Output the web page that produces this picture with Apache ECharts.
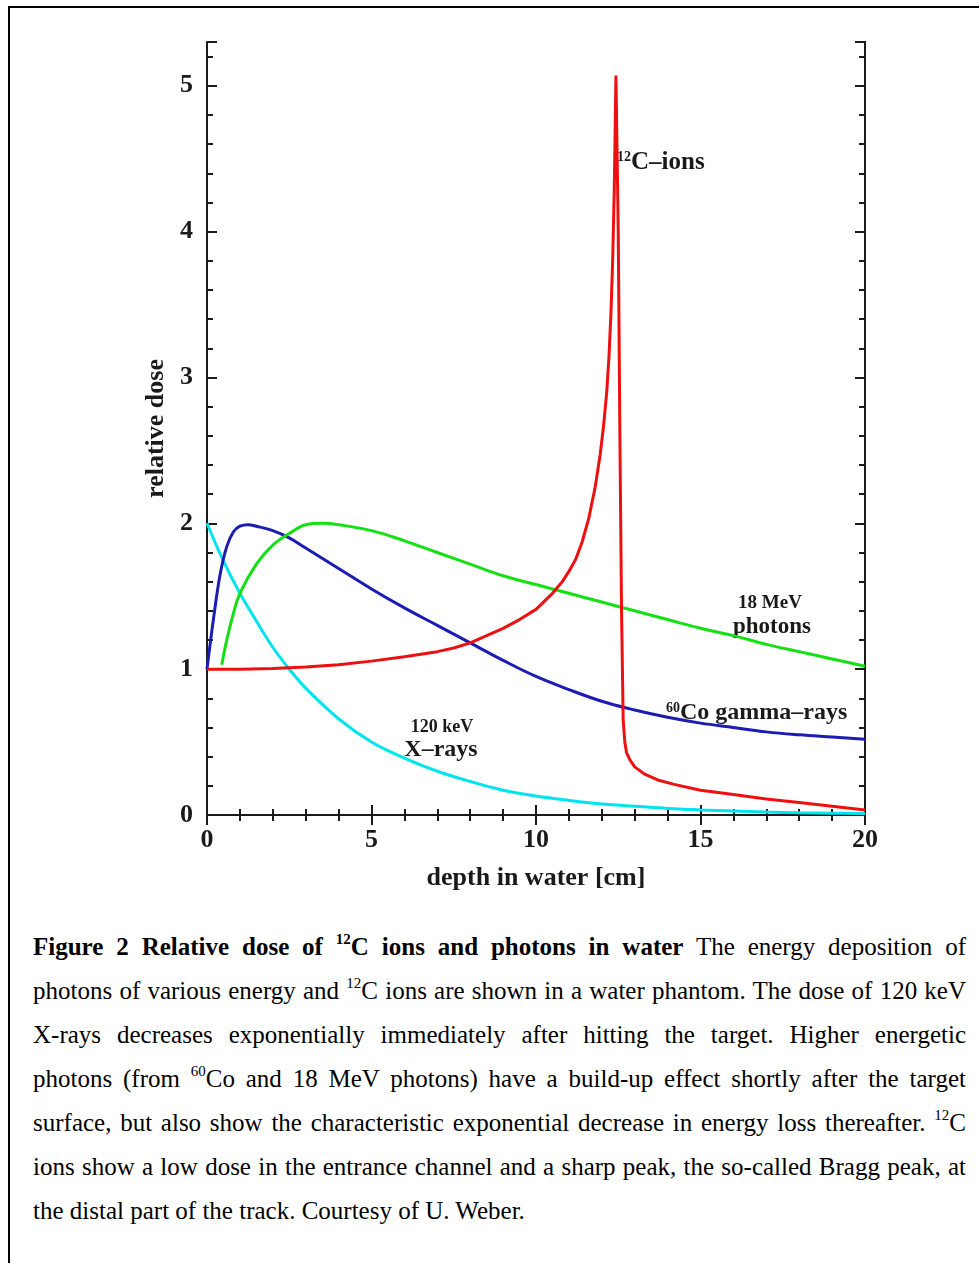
<!DOCTYPE html>
<html>
<head>
<meta charset="utf-8">
<script src="https://cdn.jsdelivr.net/npm/echarts@6/dist/echarts.min.js"></script>
<style>
  html, body { margin: 0; padding: 0; background: #fff; }
  #page { position: relative; width: 979px; height: 1263px; overflow: hidden; }
  #frame { position: absolute; left: 8px; top: 6px; width: 990px; height: 1300px;
           border-top: 2px solid #000; border-left: 2px solid #000; }
  #chart { position: absolute; left: 0; top: 0; width: 979px; height: 900px; }
  #caption { position: absolute; left: 33px; top: 925px; width: 933px;
             font-family: "Liberation Serif", "Times New Roman", serif; font-size: 25px; color: #000; }
  #caption .ln { height: 44px; line-height: 44px; text-align: justify; text-align-last: justify; }
  #caption .ln.last { text-align: left; text-align-last: left; }
  #caption sup { font-size: 15px; line-height: 0; vertical-align: baseline; position: relative; top: -0.75em; }
</style>
</head>
<body>
<div id="page">
  <div id="frame"></div>
  <div id="chart"></div>
  <div id="caption">
    <div class="ln"><b>Figure 2 Relative dose of <sup>12</sup>C ions and photons in water</b> The energy deposition of</div>
    <div class="ln">photons of various energy and <sup>12</sup>C ions are shown in a water phantom. The dose of 120 keV</div>
    <div class="ln">X-rays decreases exponentially immediately after hitting the target. Higher energetic</div>
    <div class="ln">photons (from <sup>60</sup>Co and 18 MeV photons) have a build-up effect shortly after the target</div>
    <div class="ln">surface, but also show the characteristic exponential decrease in energy loss thereafter. <sup>12</sup>C</div>
    <div class="ln">ions show a low dose in the entrance channel and a sharp peak, the so-called Bragg peak, at</div>
    <div class="ln last">the distal part of the track. Courtesy of U. Weber.</div>
  </div>
</div>
<script>
  // 120 keV X-rays
  var xrayDepth = [0, 0.5, 1, 1.5, 2, 2.5, 3, 4, 5, 6, 7, 8, 9, 10, 11, 12, 13, 14, 15, 16, 17, 18, 19, 20]
  var xrayDose = [2.0, 1.74, 1.52, 1.33, 1.15, 1.0, 0.87, 0.66, 0.50, 0.39, 0.30, 0.23, 0.17, 0.13, 0.10, 0.075, 0.06, 0.045, 0.035, 0.027, 0.02, 0.015, 0.012, 0.01]

  // 60Co gamma-rays
  var cobaltDepth = [0, 0.2, 0.4, 0.6, 0.8, 1.0, 1.25, 1.5, 2, 2.5, 3, 4, 5, 6, 7, 8, 9, 10, 11, 12, 13, 14, 15, 16, 17, 18, 19, 20]
  var cobaltDose = [1.0, 1.35, 1.65, 1.84, 1.94, 1.98, 1.99, 1.98, 1.95, 1.90, 1.83, 1.69, 1.55, 1.42, 1.30, 1.18, 1.06, 0.95, 0.86, 0.78, 0.72, 0.67, 0.63, 0.60, 0.57, 0.55, 0.535, 0.52]

  // 18 MeV photons
  var photonDepth = [0.45, 0.6, 0.8, 1.0, 1.5, 2.0, 2.5, 3.0, 3.5, 4, 5, 6, 7, 8, 9, 10, 11, 12, 13, 14, 15, 16, 17, 18, 19, 20]
  var photonDose = [1.03, 1.2, 1.38, 1.52, 1.72, 1.85, 1.93, 1.99, 2.0, 1.99, 1.95, 1.88, 1.80, 1.72, 1.64, 1.58, 1.52, 1.46, 1.40, 1.34, 1.28, 1.23, 1.17, 1.12, 1.07, 1.02]

  // 12C ions
  var carbonDepth = [0, 1, 2, 3, 4, 5, 6, 7, 7.5, 8, 8.5, 9, 9.5, 10, 10.5, 10.8, 11, 11.2, 11.4, 11.6, 11.8, 11.95, 12.05, 12.15,
    12.22, 12.28, 12.33, 12.38, 12.43, 12.5, 12.55, 12.6, 12.65, 12.7, 12.75, 12.85, 13.0, 13.3, 13.7, 14.2, 15, 16, 17, 18, 19, 20]
  var carbonDose = [1.0, 1.0, 1.005, 1.015, 1.03, 1.055, 1.085, 1.12, 1.145, 1.18, 1.23, 1.28, 1.34, 1.41, 1.52, 1.6, 1.67, 1.75, 1.87,
    2.03, 2.25, 2.47, 2.66, 2.9, 3.15, 3.45, 3.8, 4.3, 5.07, 4.0, 2.6, 1.4, 0.65, 0.5, 0.43, 0.38, 0.33, 0.28, 0.24, 0.21, 0.17,
    0.14, 0.11, 0.085, 0.06, 0.035]

  var xTicks = { min: 0, max: 20, interval: 5 }
  var yTicks = { min: 0, max: 5.3, major: 1, minor: 0.2 }

  function zip(xs, ys) {
    return xs.map(function (x, i) { return [x, ys[i]] })
  }

  var serif = '"Liberation Serif", "Times New Roman", serif'
  var ink = '#1a1a1a'
  var axisLine = { lineStyle: { color: ink, width: 2 } }

  function xAxis(pos, withLabels) {
    return {
      type: 'value', position: pos, min: xTicks.min, max: xTicks.max, interval: xTicks.interval,
      axisLine: axisLine,
      axisTick: { inside: true, length: 10, lineStyle: { color: ink, width: 2 } },
      minorTick: { show: true, splitNumber: 5, length: 6, lineStyle: { color: ink, width: 2 } },
      splitLine: { show: false },
      axisLabel: withLabels ? { show: true, margin: 12, color: ink, fontFamily: serif, fontWeight: 'bold', fontSize: 26 } : { show: false },
      name: withLabels ? 'depth in water [cm]' : '',
      nameLocation: 'middle', nameGap: 50,
      nameTextStyle: { color: ink, fontFamily: serif, fontWeight: 'bold', fontSize: 26 }
    }
  }

  function yAxis(pos, step, tickLen, withLabels) {
    return {
      type: 'value', position: pos, min: yTicks.min, max: yTicks.max, interval: step,
      axisLine: withLabels || pos === 'right' ? axisLine : { show: false },
      axisTick: { inside: true, length: tickLen, lineStyle: { color: ink, width: 2 } },
      splitLine: { show: false },
      axisLabel: withLabels ? {
        show: true, margin: 14, color: ink, fontFamily: serif, fontWeight: 'bold', fontSize: 26,
        formatter: function (v) { return Math.abs(v - Math.round(v)) < 1e-6 ? String(Math.round(v)) : '' }
      } : { show: false },
      name: withLabels ? 'relative dose' : '',
      nameLocation: 'middle', nameGap: 38,
      nameTextStyle: { color: ink, fontFamily: serif, fontWeight: 'bold', fontSize: 26 }
    }
  }

  function curve(name, data, color) {
    return {
      name: name, type: 'line', data: data, xAxisIndex: 0, yAxisIndex: 0,
      symbol: 'none', smooth: name === 'carbon' ? false : 0.4,
      lineStyle: { color: color, width: 3 }
    }
  }

  function label(x, y, text, size, align) {
    return {
      type: 'text', x: x, y: y,
      style: { text: text, fill: ink, font: 'bold ' + size + 'px ' + serif, textAlign: align || 'center', textVerticalAlign: 'middle' }
    }
  }

  function supLabel(x, y, sup, text, size) {
    return {
      type: 'text', x: x, y: y,
      style: {
        text: '{s|' + sup + '}{m|' + text + '}', fill: ink, textAlign: 'left', textVerticalAlign: 'middle',
        rich: {
          s: { fontFamily: serif, fontWeight: 'bold', fontSize: 14, verticalAlign: 'top', fill: ink, color: ink },
          m: { fontFamily: serif, fontWeight: 'bold', fontSize: size, fill: ink, color: ink }
        }
      }
    }
  }

  var chart = echarts.init(document.getElementById('chart'))
  chart.setOption({
    animation: false,
    backgroundColor: 'transparent',
    grid: { left: 207, right: 114, top: 42, bottom: 85, containLabel: false, outerBoundsMode: 'none' },
    xAxis: [xAxis('bottom', true), xAxis('top', false)],
    yAxis: [
      yAxis('left', yTicks.major, 10, true),
      yAxis('left', yTicks.minor, 6, false),
      yAxis('right', yTicks.major, 10, false),
      yAxis('right', yTicks.minor, 6, false)
    ],
    series: [
      curve('xray', zip(xrayDepth, xrayDose), '#00e4ee'),
      curve('cobalt', zip(cobaltDepth, cobaltDose), '#1c1cb4'),
      curve('photon', zip(photonDepth, photonDose), '#14e014'),
      curve('carbon', zip(carbonDepth, carbonDose), '#ee1010')
    ],
    graphic: [
      supLabel(617, 163, '12', 'C–ions', 25),
      label(770, 603, '18 MeV', 19),
      label(772, 627, 'photons', 23),
      supLabel(666, 713, '60', 'Co gamma–rays', 24),
      label(442, 727, '120 keV', 18),
      label(441, 750, 'X–rays', 24)
    ]
  })
</script>
</body>
</html>
